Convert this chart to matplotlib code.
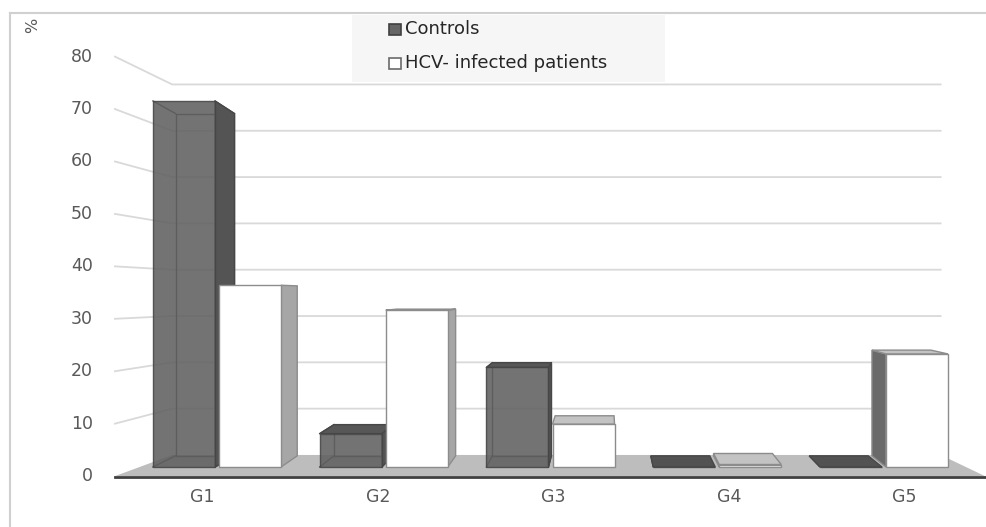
import matplotlib
matplotlib.use("Agg")
import matplotlib.pyplot as plt
from matplotlib.patches import Polygon, Rectangle
from matplotlib.lines import Line2D

# ---------------- data ----------------
categories = ["G1", "G2", "G3", "G4", "G5"]
controls = [73.5, 6.7, 20.0, 0.0, 0.0]
hcv = [36.5, 31.5, 8.6, 0.5, 22.7]
yticks = [0, 10, 20, 30, 40, 50, 60, 70, 80]
series_names = ["Controls", "HCV- infected patients"]

# ---------------- figure / axes ----------------
W, H = 987, 527
fig = plt.figure(figsize=(W / 100, H / 100), dpi=100)
ax = fig.add_axes([0, 0, 1, 1])
X0PX, XS = 217.0, 166.75      # pixel of category 0 / pixels per category (bar plane)
Y0PX, YS = 467.0, 4.98        # pixel of value 0 / pixels per % (bar plane)
ax.set_xlim(-X0PX / XS, (W - X0PX) / XS)
ax.set_ylim(-(H - Y0PX) / YS, Y0PX / YS)
ax.axis("off")

FONT = "DejaVu Sans"

# simple one-point perspective in data space
VPX = (605 - X0PX) / XS
VPY = (Y0PX - 295) / YS
S_AXIS = 1.053       # front edge of the floor / value-axis plane
S_WALL = 0.93        # back wall
SBX, SBY = 0.95, 0.935   # back face of the bars
XL, XR = -0.464, 4.491   # floor extent
BW = 0.372


def proj(x, v, sx, sy=None):
    if sy is None:
        sy = sx
    return (VPX + (x - VPX) * sx, VPY + (v - VPY) * sy)


# ---------------- walls, gridlines, floor ----------------
gcol = "#d9d9d9"
for v in yticks[1:]:
    a = proj(XL, v, S_AXIS)
    b = proj(XL, v, S_WALL)
    c = proj(XR, v, S_WALL)
    ax.add_line(Line2D([a[0], b[0], c[0]], [a[1], b[1], c[1]], color=gcol, lw=1.3, zorder=1))

floor = [proj(XL, 0, S_AXIS), proj(XR, 0, S_AXIS), proj(XR, 0, S_WALL), proj(XL, 0, S_WALL)]
ax.add_patch(Polygon(floor, closed=True, fc="#bdbdbd", ec="none", zorder=1.5))
fa, fb = proj(XL, 0, S_AXIS), proj(XR, 0, S_AXIS)
ax.add_line(Line2D([fa[0], fb[0]], [fa[1] - 0.15, fb[1] - 0.15], color="#3f3f3f", lw=2.0, zorder=2))

# ---------------- bars ----------------
ctrl_left = [i - 0.384 for i in range(len(categories))]
hcv_left = [i + 0.012 for i in range(len(categories))]


def box_faces(xl, h, side_col_r, side_col_l, top_col, ec, z, outline_back=False):
    xr = xl + BW
    if outline_back and h > 0:
        p1 = proj(xl, 0, SBX, SBY)
        p2 = proj(xl, h, SBX, SBY)
        p3 = proj(xr, h, SBX, SBY)
        p4 = proj(xr, 0, SBX, SBY)
        ax.add_line(Line2D([p1[0], p2[0], p3[0], p4[0], p1[0]],
                           [p1[1], p2[1], p3[1], p4[1], p1[1]],
                           color="#4a4a4a", lw=1.0, zorder=z - 0.2))
        for (x, v) in [(xl, 0), (xl, h), (xr, h), (xr, 0)]:
            q = proj(x, v, SBX, SBY)
            ax.add_line(Line2D([x, q[0]], [v, q[1]], color="#4a4a4a", lw=1.0, zorder=z - 0.2))
    if xr < VPX:
        poly = [(xr, 0), (xr, h), proj(xr, h, SBX, SBY), proj(xr, 0, SBX, SBY)]
        ax.add_patch(Polygon(poly, closed=True, fc=side_col_r, ec=ec, lw=1, zorder=z))
    if xl > VPX:
        poly = [(xl, 0), (xl, h), proj(xl, h, SBX, SBY), proj(xl, 0, SBX, SBY)]
        ax.add_patch(Polygon(poly, closed=True, fc=side_col_l, ec=ec, lw=1, zorder=z))
    if h < VPY:
        poly = [(xl, h), (xr, h), proj(xr, h, SBX, SBY), proj(xl, h, SBX, SBY)]
        ax.add_patch(Polygon(poly, closed=True, fc=top_col, ec=ec, lw=1, zorder=z + 0.1))


for xl, h in zip(ctrl_left, controls):
    box_faces(xl, h, "#545454", "#545454", "#575757" if h > 0 else "#525252", "#474747", 3,
              outline_back=True)
ax.bar(ctrl_left, controls, width=BW, align="edge", color="#606060", alpha=0.88,
       edgecolor="#454545", linewidth=1.0, zorder=4)

for xl, h in zip(hcv_left, hcv):
    box_faces(xl, h, "#a6a6a6", "#6a6a6a", "#c3c3c3", "#8c8c8c", 5)
ax.bar(hcv_left, hcv, width=BW, align="edge", color="white",
       edgecolor="#8c8c8c", linewidth=1.0, zorder=6)

# ---------------- value axis labels ----------------
for v in yticks:
    _, y = proj(XL, v, S_AXIS)
    ax.text((93 - X0PX) / XS, y, str(v), ha="right", va="center", fontsize=12.5,
            color="#595959", family=FONT)

# category labels along the front edge
for i, c in enumerate(categories):
    x, _ = proj(i, 0, S_AXIS)
    ax.text(x + 0.035, (Y0PX - 497) / YS, c, ha="center", va="center", fontsize=12.5,
            color="#595959", family=FONT)

# axis title "%"
fig.text(33 / W, 1 - 25 / H, "%", rotation=90, ha="center", va="center",
         fontsize=11.5, color="#595959", family=FONT)

# ---------------- chart border ----------------
fig.add_artist(Line2D([10 / W, 1.0], [1 - 13 / H, 1 - 13 / H], color="#d0d0d0", lw=1.5,
                      transform=fig.transFigure))
fig.add_artist(Line2D([10 / W, 10 / W], [1 - 13 / H, 0], color="#d0d0d0", lw=1.5,
                      transform=fig.transFigure))

# ---------------- legend ----------------
def fx(px):
    return px / W


def fy(py):
    return 1 - py / H


fig.add_artist(Rectangle((fx(352), fy(82)), (665 - 352) / W, (82 - 15) / H,
                         transform=fig.transFigure, fc="#f6f6f6", ec="none", zorder=0.5))
leg_style = [("#666666", "#404040"), ("white", "#6a6a6a")]
for k, (name, (fc, ec)) in enumerate(zip(series_names, leg_style)):
    yc = 29 + 34 * k
    fig.add_artist(Rectangle((fx(389), fy(yc + 5.5)), 12 / W, 11 / H, transform=fig.transFigure,
                             fc=fc, ec=ec, lw=1.2, zorder=3))
    fig.text(fx(405), fy(yc), name, ha="left", va="center", fontsize=13,
             color="#262626", family=FONT, zorder=3)

fig.savefig("out.png", dpi=100)
